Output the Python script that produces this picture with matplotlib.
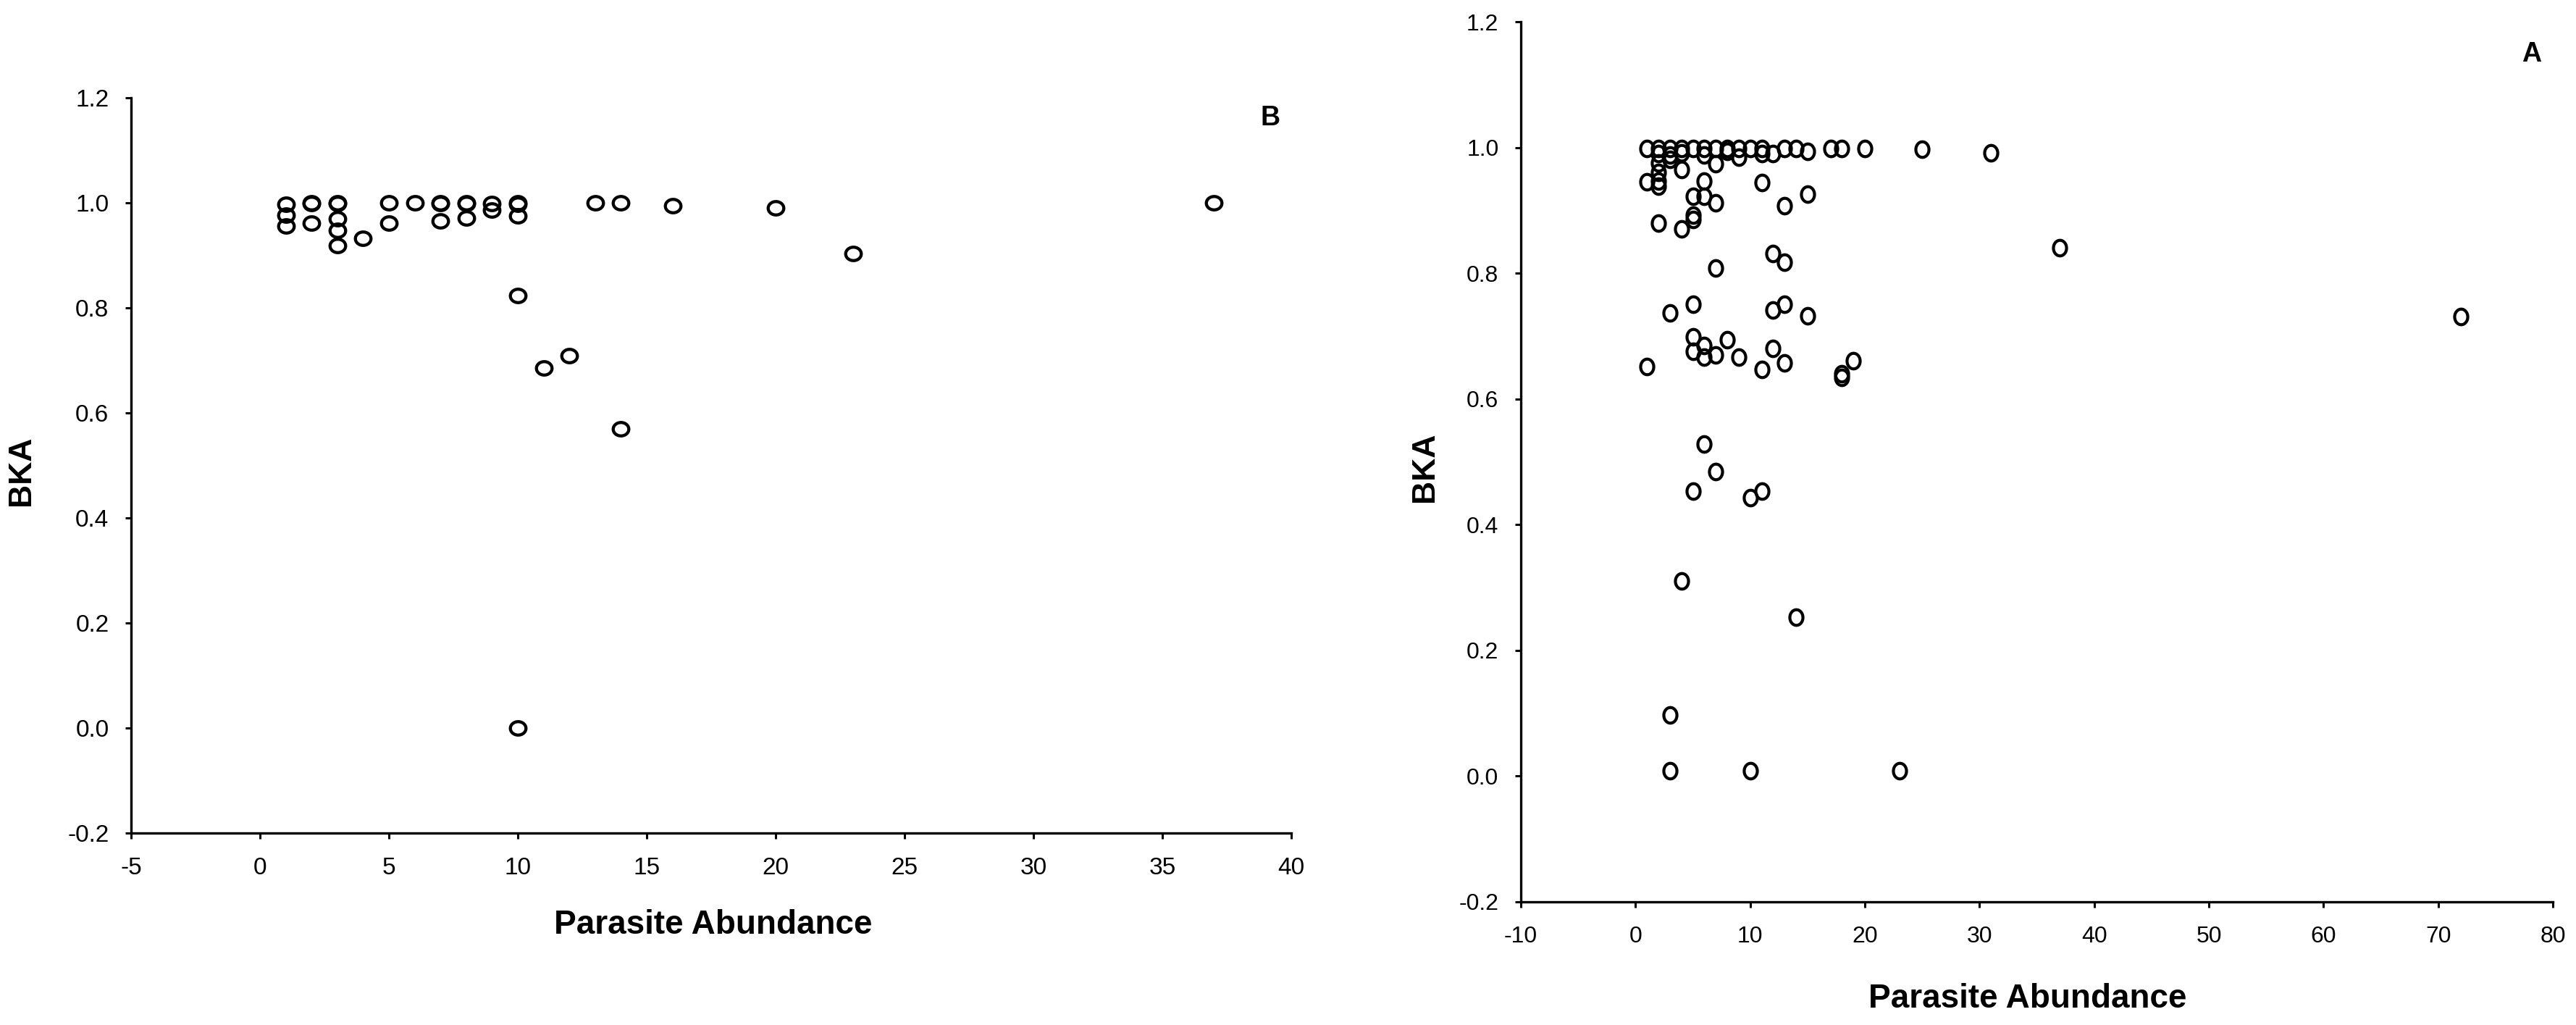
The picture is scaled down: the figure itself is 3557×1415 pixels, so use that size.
import numpy as np
import matplotlib
matplotlib.use("Agg")
import matplotlib.pyplot as plt
from matplotlib.path import Path

plt.rcParams['font.family'] = ['Liberation Sans', 'DejaVu Sans']

# ---------------- data ----------------
# Panel B (left)
b_x = [1, 1, 1, 2, 2, 2, 3, 3, 3, 3, 3, 4, 5, 5, 6, 7, 7, 7, 8, 8, 8, 9, 9,
       10, 10, 10, 10, 10, 11, 12, 13, 14, 14, 16, 20, 23, 37]
b_y = [0.997, 0.977, 0.956, 1.0, 0.998, 0.962, 1.0, 0.998, 0.970, 0.948, 0.918,
       0.933, 1.0, 0.962, 1.0, 1.0, 0.998, 0.965, 1.0, 0.998, 0.971, 0.998, 0.986,
       1.0, 0.997, 0.975, 0.823, 0.0, 0.685, 0.709, 1.0, 1.0, 0.570, 0.995, 0.990,
       0.904, 1.0]

# Panel A (right)
a_x = [1, 1, 1,
       2, 2, 2, 2, 2, 2, 2,
       3, 3, 3, 3, 3, 3,
       4, 4, 4, 4, 4,
       5, 5, 5, 5, 5, 5, 5, 5,
       6, 6, 6, 6, 6, 6, 6,
       7, 7, 7, 7, 7, 7,
       8, 8, 8,
       9, 9, 9,
       10, 10, 10,
       11, 11, 11, 11, 11,
       12, 12, 12, 12,
       13, 13, 13, 13, 13,
       14, 14,
       15, 15, 15,
       17,
       18, 18, 18,
       19,
       20,
       23,
       25,
       31,
       37,
       72]
a_y = [0.998, 0.945, 0.652,
       0.998, 0.990, 0.975, 0.960, 0.947, 0.938, 0.880,
       0.998, 0.988, 0.981, 0.737, 0.097, 0.008,
       0.998, 0.991, 0.965, 0.871, 0.310,
       0.998, 0.922, 0.892, 0.886, 0.751, 0.699, 0.676, 0.453,
       0.998, 0.988, 0.946, 0.922, 0.685, 0.666, 0.528,
       0.998, 0.974, 0.912, 0.808, 0.670, 0.485,
       0.998, 0.994, 0.694,
       0.998, 0.984, 0.666,
       0.998, 0.443, 0.008,
       0.998, 0.990, 0.944, 0.647, 0.453,
       0.990, 0.831, 0.741, 0.680,
       0.998, 0.907, 0.818, 0.751, 0.657,
       0.998, 0.253,
       0.994, 0.926, 0.732,
       0.998,
       0.998, 0.640, 0.634,
       0.661,
       0.998,
       0.008,
       0.997,
       0.992,
       0.840,
       0.731]

b_xticks = [-5, 0, 5, 10, 15, 20, 25, 30, 35, 40]
a_xticks = [-10, 0, 10, 20, 30, 40, 50, 60, 70, 80]
yticks = [-0.2, 0.0, 0.2, 0.4, 0.6, 0.8, 1.0, 1.2]

# ---------------- figure ----------------
W, H = 3557, 1415
fig = plt.figure(figsize=(W / 100, H / 100), dpi=100)


def ellipse_marker(a, b):
    t = np.linspace(0, 2 * np.pi, 120)
    verts = np.column_stack([a * np.cos(t), b * np.sin(t)])
    return Path(verts, closed=True)


def setup(ax, xlim, xticks, fs):
    ax.set_xlim(*xlim)
    ax.set_ylim(-0.2, 1.2)
    ax.set_xticks(xticks)
    ax.set_yticks(yticks)
    ax.set_xticklabels([f"{v:g}" for v in xticks])
    ax.set_yticklabels([f"{v:.1f}" for v in yticks])
    for s in ['top', 'right']:
        ax.spines[s].set_visible(False)
    for s in ['left', 'bottom']:
        ax.spines[s].set_linewidth(2.4)
    ax.tick_params(axis='both', direction='out', length=6, width=2.2,
                   labelsize=fs, colors='black')
    ax.tick_params(axis='y', pad=16)
    ax.tick_params(axis='x', pad=18)
    ax.set_facecolor('white')


# Left panel (B)
axB = fig.add_axes([181 / W, (H - 1150) / H, (1783 - 181) / W, (1150 - 135) / H])
setup(axB, (-5, 40), b_xticks, 24)
axB.plot(b_x, b_y, linestyle='none', marker=ellipse_marker(1.0, 0.86),
         markersize=15.5, markerfacecolor='none', markeredgecolor='black',
         markeredgewidth=3.1)

# Right panel (A)
axA = fig.add_axes([2100 / W, (H - 1245) / H, (3525 - 2100) / W, (1245 - 30) / H])
setup(axA, (-10, 80), a_xticks, 23)
axA.plot(a_x, a_y, linestyle='none', marker=ellipse_marker(0.84, 1.0),
         markersize=15.5, markerfacecolor='none', markeredgecolor='black',
         markeredgewidth=3.0)

# Axis labels and panel letters
fig.text(985 / W, 1 - 1277 / H, "Parasite Abundance", ha='center', va='center',
         fontsize=33, fontweight='bold')
fig.text(2800 / W, 1 - 1379 / H, "Parasite Abundance", ha='center', va='center',
         fontsize=33, fontweight='bold')
fig.text(30 / W, 1 - 650 / H, "BKA", ha='center', va='center', rotation=90,
         fontsize=32, fontweight='bold')
fig.text(1967 / W, 1 - 645 / H, "BKA", ha='center', va='center', rotation=90,
         fontsize=32, fontweight='bold')
fig.text(1754 / W, 1 - 163 / H, "B", ha='center', va='center',
         fontsize=27, fontweight='bold')
fig.text(3496 / W, 1 - 75 / H, "A", ha='center', va='center',
         fontsize=27, fontweight='bold')

fig.savefig("out.png", dpi=100, facecolor='white')
